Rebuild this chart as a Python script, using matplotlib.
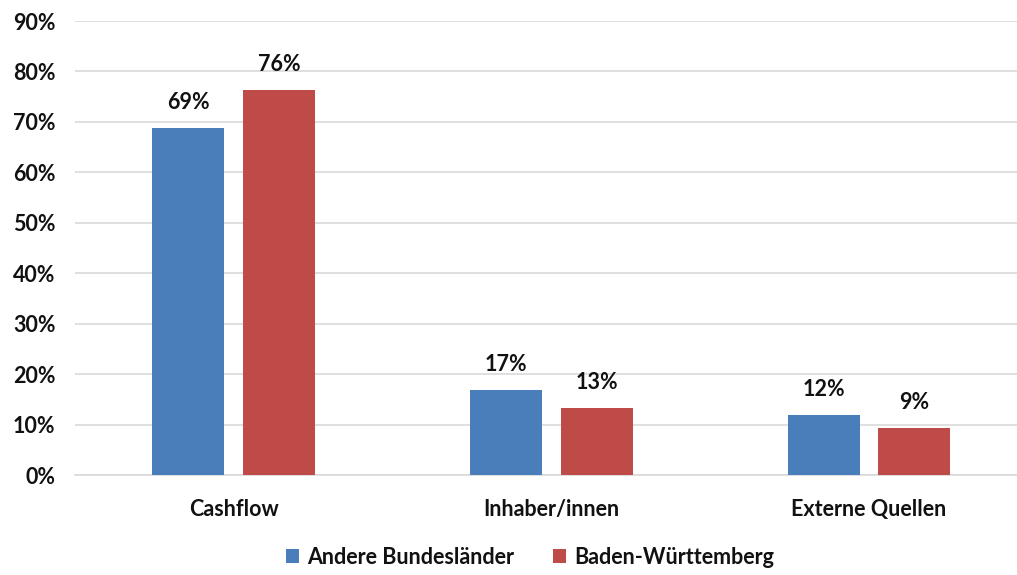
import matplotlib
matplotlib.use("Agg")
import matplotlib.pyplot as plt
import numpy as np

categories = ["Cashflow", "Inhaber/innen", "Externe Quellen"]
series_names = ["Andere Bundesländer", "Baden-Württemberg"]
andere = [68.8, 16.8, 11.9]
bw = [76.3, 13.2, 9.3]
labels_andere = ["69%", "17%", "12%"]
labels_bw = ["76%", "13%", "9%"]
yticks = [0, 10, 20, 30, 40, 50, 60, 70, 80, 90]

colors = ["#4A7EBB", "#BE4B48"]
plt.rcParams['font.family'] = ['Lato', 'DejaVu Sans']
plt.rcParams['font.weight'] = 'bold'
FS = 15.5
TC = '#111111'

fig = plt.figure(figsize=(10.17, 5.75), dpi=100)
ax = fig.add_axes([75/1017, 1-475/575, 1-75/1017, (475-21)/575])

x = np.arange(len(categories))
w = 0.227
off = 0.143
b1 = ax.bar(x - off, andere, w, color=colors[0], label=series_names[0], zorder=3)
b2 = ax.bar(x + off, bw, w, color=colors[1], label=series_names[1], zorder=3)

for bars, labs in ((b1, labels_andere), (b2, labels_bw)):
    for r, t in zip(bars, labs):
        ax.text(r.get_x() + r.get_width()/2, r.get_height() + 3.0, t,
                ha='center', va='bottom', fontsize=FS, fontweight='bold', color=TC)

ax.set_ylim(0, 90)
ax.set_xlim(-0.5, 2 + (1017-869)/317.5)
ax.set_yticks(yticks)
ax.set_yticklabels([f"{v}%" for v in yticks], fontsize=FS, fontweight='bold', color=TC)
ax.set_xticks(x)
ax.set_xticklabels(categories, fontsize=FS, fontweight='bold', color=TC)
ax.tick_params(axis='both', length=0)
ax.tick_params(axis='y', pad=14)
ax.tick_params(axis='x', pad=17)
ax.yaxis.grid(True, color='#D9D9D9', linewidth=1.2, zorder=0)
for s in ['top', 'right', 'left']:
    ax.spines[s].set_visible(False)
ax.spines['bottom'].set_color('#D9D9D9')
ax.spines['bottom'].set_linewidth(1.2)

leg = fig.legend(handles=[b1, b2], labels=series_names, loc='center',
                 bbox_to_anchor=(530/1017, 1-557/575), ncol=2, frameon=False,
                 fontsize=FS, handlelength=0.6, handleheight=0.6,
                 handletextpad=0.4, columnspacing=1.8)
for t in leg.get_texts():
    t.set_fontweight('bold')
    t.set_color(TC)

fig.savefig("out.png", dpi=100, facecolor='white')
